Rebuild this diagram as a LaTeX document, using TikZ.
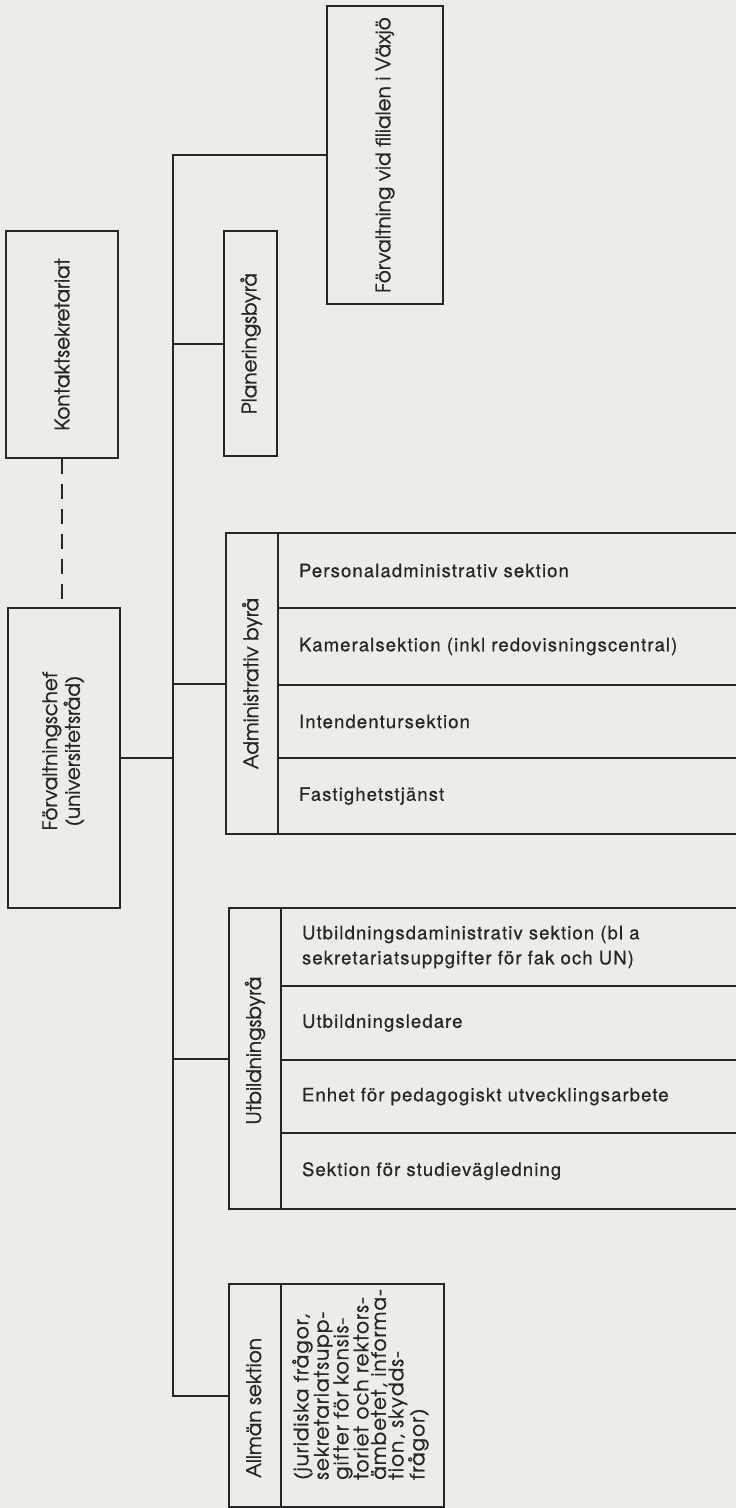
\documentclass[tikz,border=0pt]{standalone}
\usepackage{fontspec}
\newfontfamily\labfont[FakeBold=0.9]{TeX Gyre Adventor}
\newfontfamily\notefont[FakeBold=0.9,LetterSpace=5]{TeX Gyre Adventor}
\newfontfamily\rowfont[LetterSpace=6,FakeBold=0.6]{TeX Gyre Heros}
\definecolor{paper}{RGB}{236,236,233}
\definecolor{ink}{RGB}{38,38,38}
\tikzset{
  box/.style={draw=ink, line width=2.1pt, inner sep=0pt, anchor=north west, text=ink,
              font=\labfont\fontsize{20}{22}\selectfont},
  link/.style={draw=ink, line width=2.1pt},
  dashlink/.style={link, dash pattern=on 15pt off 10pt},
  sect/.style={draw=ink, line width=2.1pt, anchor=north west, text=ink,
               inner xsep=21pt, inner ysep=0pt, text width=428pt, align=left,
               minimum height=#1, font=\rowfont\fontsize{18.5}{25}\selectfont},
}
\newcommand{\vlab}[1]{\rotatebox{90}{#1}}
\begin{document}
\begin{tikzpicture}[x=1pt, y=-1pt]
  \fill[paper] (0,0) rectangle (736,1508);
  \useasboundingbox (0,0) rectangle (736,1508);

  % upper row of boxes
  \node[box, minimum width=116pt, minimum height=298pt] (vaxjo) at (326,5)
    {\vlab{Förvaltning vid filialen i Växjö}};
  \node[box, minimum width=112pt, minimum height=227pt] (kontakt) at (5,230)
    {\vlab{Kontaktsekretariat}};
  \node[box, minimum width=53pt, minimum height=225pt] (plan) at (223,230)
    {\vlab{Planeringsbyrå}};

  % head of administration
  \node[box, minimum width=112pt, minimum height=300pt] (chef) at (7,607)
    {\vlab{\hspace*{14pt}\begin{tabular}{@{}c@{}}Förvaltningschef\\(universitetsråd)\end{tabular}}};

  % administrative office and its sections
  \node[box, minimum width=52pt, minimum height=301pt] (adm) at (225,532)
    {\vlab{Administrativ byrå}};
  \node[sect=75pt] (a1) at (277,532) {Personaladministrativ sektion};
  \node[sect=77pt] (a2) at (277,607) {Kameralsektion (inkl redovisningscentral)};
  \node[sect=73pt] (a3) at (277,684) {Intendentursektion};
  \node[sect=76pt] (a4) at (277,757) {Fastighetstjänst};

  % education office and its sections
  \node[box, minimum width=52pt, minimum height=301pt] (utb) at (228,907)
    {\vlab{\hspace*{16pt}Utbildningsbyrå}};
  \node[sect=78pt] (u1) at (280,907)
    {Utbildningsdaministrativ sektion (bl a\\sekretariatsuppgifter för fak och UN)};
  \node[sect=74pt] (u2) at (280,985) {Utbildningsledare};
  \node[sect=73pt] (u3) at (280,1059) {Enhet för pedagogiskt utvecklingsarbete};
  \node[sect=76pt] (u4) at (280,1132) {Sektion för studievägledning};

  % general section
  \node[box, minimum width=52pt, minimum height=223pt] (allman) at (228,1283) {};
  \node[box, minimum width=163pt, minimum height=223pt] (allmaninfo) at (280,1283) {};
  \node[text=ink, font=\labfont\fontsize{20}{22}\selectfont, rotate=90,
        anchor=base west, inner sep=0pt] (allmanlab) at (261,1478) {Allmän sektion};
  \node[text=ink, font=\notefont\fontsize{20}{17.5}\selectfont, rotate=90,
        anchor=north west, inner sep=0pt, align=left] (allmantext) at (292,1480)
    {(juridiska frågor,\\sekretariatsupp-\\gifter för konsis-\\toriet och rektors-\\ämbetet, informa-\\tion, skydds-\\frågor)};

  % connectors
  \coordinate (tx) at (173,0);
  \draw[dashlink] (kontakt.south) -- (kontakt.south |- chef.north);
  \draw[link] (chef.east) -- (chef.east -| tx);
  \draw[link] (vaxjo.west) -- (vaxjo.west -| tx) -- (allman.west -| tx) -- (allman.west);
  \draw[link] (plan.west) -- (plan.west -| tx);
  \draw[link] (adm.west) -- (adm.west -| tx);
  \draw[link] (utb.west) -- (utb.west -| tx);
\end{tikzpicture}
\end{document}
